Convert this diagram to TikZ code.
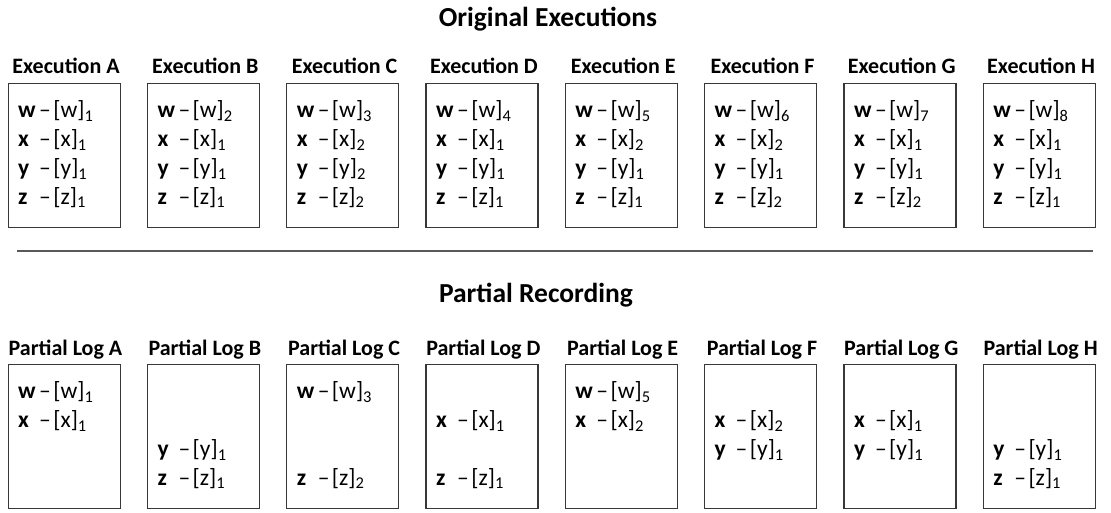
\documentclass[tikz,border=0pt]{standalone}
\usepackage{fontspec}
\setmainfont{Carlito}
\newcommand{\rowtxt}[2]{\makebox[21pt][l]{\bfseries #1}–\hspace{2.5pt}[#1]\textsubscript{#2}}
\tikzset{
  logbox/.style={draw=black!78,line width=1.3pt,minimum width=112pt,minimum height=144pt,inner sep=0pt,anchor=north west},
  title/.style={font=\fontsize{27.5}{30}\selectfont\bfseries,anchor=base,inner sep=0pt},
  boxlabel/.style={font=\fontsize{22}{24}\selectfont\bfseries,anchor=base,inner sep=0pt},
  rowtext/.style={font=\fontsize{23.5}{26}\selectfont,anchor=base west,inner sep=0pt},
  sepline/.style={draw=black!65,line width=2pt}
}
\newcommand{\boxrow}[4]{% name, slot, letter, sub
  \node[rowtext] at ([xshift=10.5pt,yshift=-(28.8*#2+6)*1pt]#1.north west) {\rowtxt{#3}{#4}};}
\begin{document}
\begin{tikzpicture}[x=1pt,y=-1pt]
\useasboundingbox (0,0) rectangle (1111,513);
\node[title] (t1) at (548,27) {Original Executions};
\node[title] (t2) at (536,302) {Partial Recording};
\coordinate (s1) at (17,251);
\coordinate (s2) at (1093,251);
\draw[sepline] (s1) -- (s2);
\foreach \L [count=\i from 0] in {A,B,C,D,E,F,G,H}{
  \node[logbox] (e\L) at ({7.5+139.3*\i},83) {};
  \node[boxlabel] (le\L) at ({66+139.3*\i},74) {Execution \L};
  \node[boxlabel] (lp\L) at ({65.5+139.3*\i},355) {Partial Log \L};
  \node[logbox] (p\L) at ({7.5+139.3*\i},364) {};
}
% top row
\foreach \L/\a/\b/\c/\d in {A/1/1/1/1,B/2/1/1/1,C/3/2/2/2,D/4/1/1/1,E/5/2/1/1,F/6/2/1/2,G/7/1/1/2,H/8/1/1/1}{
  \boxrow{e\L}{1}{w}{\a}
  \boxrow{e\L}{2}{x}{\b}
  \boxrow{e\L}{3}{y}{\c}
  \boxrow{e\L}{4}{z}{\d}
}
% bottom row
\boxrow{pA}{1}{w}{1} \boxrow{pA}{2}{x}{1}
\boxrow{pB}{3}{y}{1} \boxrow{pB}{4}{z}{1}
\boxrow{pC}{1}{w}{3} \boxrow{pC}{4}{z}{2}
\boxrow{pD}{2}{x}{1} \boxrow{pD}{4}{z}{1}
\boxrow{pE}{1}{w}{5} \boxrow{pE}{2}{x}{2}
\boxrow{pF}{2}{x}{2} \boxrow{pF}{3}{y}{1}
\boxrow{pG}{2}{x}{1} \boxrow{pG}{3}{y}{1}
\boxrow{pH}{3}{y}{1} \boxrow{pH}{4}{z}{1}
\end{tikzpicture}
\end{document}
